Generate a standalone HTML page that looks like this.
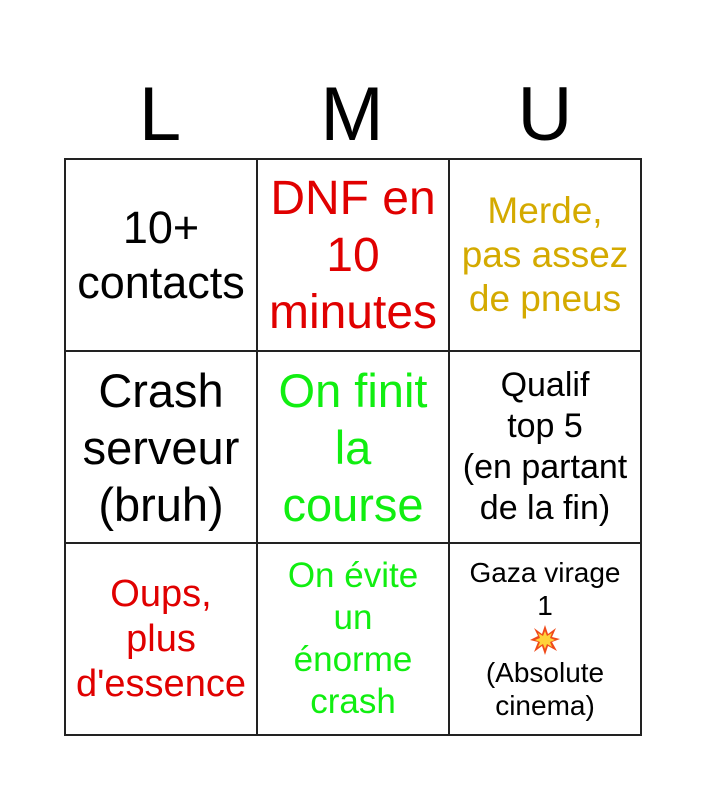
<!DOCTYPE html>
<html><head><meta charset="utf-8"><style>
body{margin:0;width:705px;height:800px;background:#fff;font-family:"Liberation Sans",sans-serif;position:relative;overflow:hidden}
.h{position:absolute;top:70px;font-size:76px;width:192px;text-align:center;line-height:90px}
table{position:absolute;left:64px;top:158px;border-collapse:collapse;table-layout:fixed}
td{width:190px;height:190px;border:2px solid #222;text-align:center;vertical-align:middle;padding:0;white-space:nowrap}
.r{color:#e00000}.g{color:#d4aa00}.gr{color:#11ee11}
</style></head><body>
<div class="h" style="left:64px">L</div>
<div class="h" style="left:256px">M</div>
<div class="h" style="left:449px">U</div>
<table>
<tr>
<td style="font-size:45px;line-height:55px">10+<br>contacts</td>
<td class="r" style="font-size:48px;line-height:57px">DNF en<br>10<br>minutes</td>
<td class="g" style="font-size:37px;line-height:44px">Merde,<br>pas assez<br>de pneus</td>
</tr>
<tr>
<td style="font-size:47px;line-height:57px">Crash<br>serveur<br>(bruh)</td>
<td class="gr" style="font-size:47px;line-height:57px">On finit<br>la<br>course</td>
<td style="font-size:34px;line-height:41px">Qualif<br>top 5<br>(en partant<br>de la fin)</td>
</tr>
<tr>
<td class="r" style="font-size:38px;line-height:45px">Oups,<br>plus<br>d'essence</td>
<td class="gr" style="font-size:35px;line-height:42px">On évite<br>un<br>énorme<br>crash</td>
<td style="font-size:28px;line-height:33px">Gaza virage<br>1<br><svg width="34" height="32" viewBox="0 0 32 32" style="vertical-align:middle"><polygon points="16,1 19,10 27,4 23,13 31,15 23,18 28,27 19,22 16,31 13,22 5,28 9,18 1,16 9,12 5,4 13,10" fill="#f04a1a"/><polygon points="16,7 18,12 23,9 21,14 26,16 21,18 23,23 18,20 16,25 14,20 9,23 11,18 6,16 11,14 9,9 14,12" fill="#ffd23a"/></svg><br>(Absolute<br>cinema)</td>
</tr>
</table>
</body></html>
